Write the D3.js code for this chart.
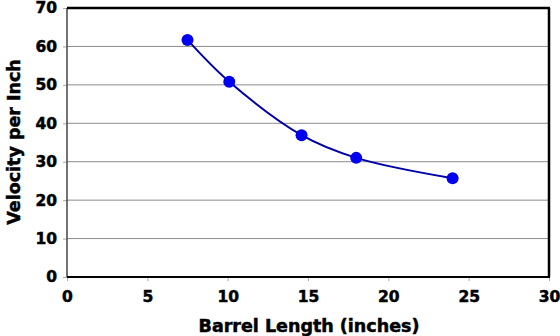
<!DOCTYPE html>
<html>
<head>
<meta charset="utf-8">
<script src="https://cdn.jsdelivr.net/npm/d3@7"></script>
<style>
  body { margin: 0; background: #fff; }
  text { font-family: "DejaVu Sans", sans-serif; font-weight: bold; stroke: #000; stroke-width: 0.5px; }
</style>
</head>
<body>
<main></main>
<script>
// data
var barrel = [7.5, 10.1, 14.6, 18.0, 24.0];
var velocity = [61.7, 50.8, 36.9, 31.0, 25.7];
var xTicks = [0, 5, 10, 15, 20, 25, 30];
var yTicks = [0, 10, 20, 30, 40, 50, 60, 70];

var W = 560, H = 336;
var mLeft = 67, mRight = 549, mTop = 8, mBottom = 277;

var svg = d3.select('main').append('svg')
    .attr('width', W)
    .attr('height', H);

var x = d3.scaleLinear().domain([0, 30]).range([mLeft, mRight]);
var y = d3.scaleLinear().domain([0, 70]).range([mBottom, mTop]);

// gridlines
svg.selectAll('.grid')
    .data(yTicks.slice(1, -1))
    .enter().append('line')
    .attr('x1', mLeft).attr('x2', mRight)
    .attr('y1', d => y(d)).attr('y2', d => y(d))
    .attr('stroke', '#8c8c8c')
    .attr('stroke-width', 1);

// axes
var xAxis = svg.append('g')
    .attr('transform', 'translate(0,' + mBottom + ')')
    .call(d3.axisBottom(x).tickValues(xTicks).tickSize(4).tickPadding(10));
var yAxis = svg.append('g')
    .attr('transform', 'translate(' + mLeft + ',0)')
    .call(d3.axisLeft(y).tickValues(yTicks).tickSize(4).tickPadding(6));

[xAxis, yAxis].forEach(g => {
  g.select('.domain').remove();
  g.selectAll('line').attr('stroke', '#aaa');
  g.selectAll('text').attr('fill', '#000').style('font-size', '15.5px');
});

// plot frame
svg.append('line').attr('x1', mLeft).attr('x2', mLeft).attr('y1', mTop).attr('y2', mBottom)
    .attr('stroke', '#444').attr('stroke-width', 1.5);
svg.append('line').attr('x1', mLeft).attr('x2', mRight + 1).attr('y1', mBottom).attr('y2', mBottom)
    .attr('stroke', '#000').attr('stroke-width', 2);
svg.append('line').attr('x1', mLeft).attr('x2', mRight + 1).attr('y1', mTop).attr('y2', mTop)
    .attr('stroke', '#000').attr('stroke-width', 2.5);
svg.append('line').attr('x1', mRight).attr('x2', mRight).attr('y1', mTop).attr('y2', mBottom)
    .attr('stroke', '#000').attr('stroke-width', 2.5);

// smoothed line
var pts = barrel.map((b, i) => [b, velocity[i]]);
svg.append('path')
    .datum(pts)
    .attr('fill', 'none')
    .attr('stroke', '#0000a8')
    .attr('stroke-width', 2)
    .attr('d', d3.line().x(d => x(d[0])).y(d => y(d[1])).curve(d3.curveCatmullRom.alpha(0.5)));

svg.selectAll('.dot')
    .data(pts)
    .enter().append('circle')
    .attr('cx', d => x(d[0]))
    .attr('cy', d => y(d[1]))
    .attr('r', 6)
    .attr('fill', '#0000f0');

// axis titles
svg.append('text')
    .attr('x', 309).attr('y', 332)
    .attr('text-anchor', 'middle')
    .style('font-size', '17.5px')
    .text('Barrel Length (inches)');

svg.append('text')
    .attr('transform', 'translate(20,142) rotate(-90)')
    .attr('text-anchor', 'middle')
    .style('font-size', '17.5px')
    .text('Velocity per Inch');
</script>
</body>
</html>
